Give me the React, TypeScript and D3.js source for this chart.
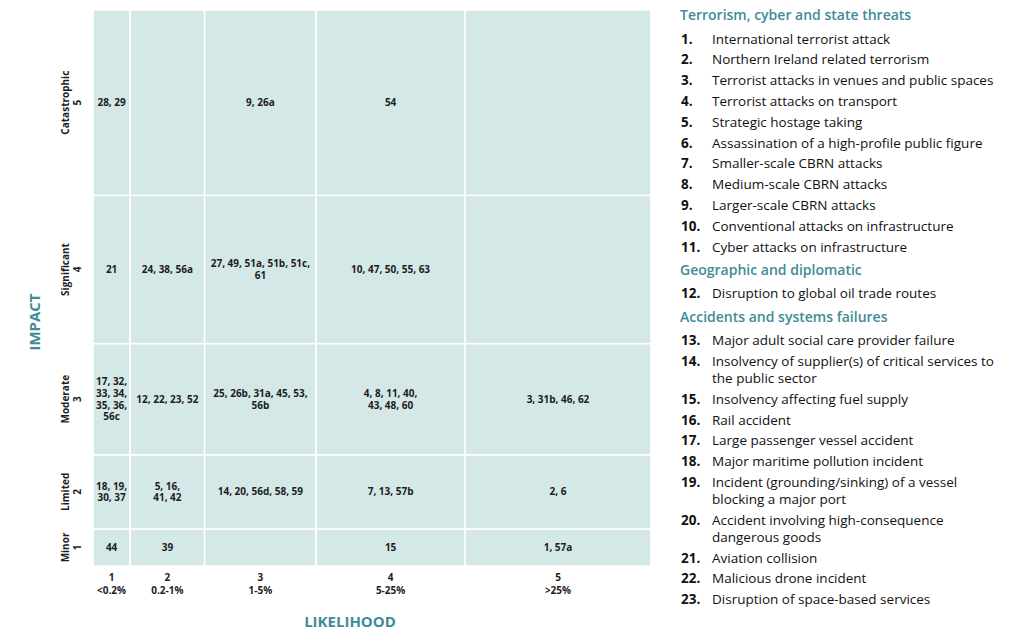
import React from 'react';
import * as d3 from 'd3';

// likelihood (columns) and impact (rows), both scored 1..5
const likelihoodLevels = [1, 2, 3, 4, 5];
const likelihoodLabels = ['<0.2%', '0.2-1%', '1-5%', '5-25%', '>25%'];
const impactLevels = [1, 2, 3, 4, 5];
const impactLabels = ['Minor', 'Limited', 'Moderate', 'Significant', 'Catastrophic'];

// risk numbers sitting in each cell, already broken into lines
const cells: { l: number; i: number; lines: string[] }[] = [
  { l: 1, i: 5, lines: ['28, 29'] },
  { l: 3, i: 5, lines: ['9, 26a'] },
  { l: 4, i: 5, lines: ['54'] },
  { l: 1, i: 4, lines: ['21'] },
  { l: 2, i: 4, lines: ['24, 38, 56a'] },
  { l: 3, i: 4, lines: ['27, 49, 51a, 51b, 51c,', '61'] },
  { l: 4, i: 4, lines: ['10, 47, 50, 55, 63'] },
  { l: 1, i: 3, lines: ['17, 32,', '33, 34,', '35, 36,', '56c'] },
  { l: 2, i: 3, lines: ['12, 22, 23, 52'] },
  { l: 3, i: 3, lines: ['25, 26b, 31a, 45, 53,', '56b'] },
  { l: 4, i: 3, lines: ['4, 8, 11, 40,', '43, 48, 60'] },
  { l: 5, i: 3, lines: ['3, 31b, 46, 62'] },
  { l: 1, i: 2, lines: ['18, 19,', '30, 37'] },
  { l: 2, i: 2, lines: ['5, 16,', '41, 42'] },
  { l: 3, i: 2, lines: ['14, 20, 56d, 58, 59'] },
  { l: 4, i: 2, lines: ['7, 13, 57b'] },
  { l: 5, i: 2, lines: ['2, 6'] },
  { l: 1, i: 1, lines: ['44'] },
  { l: 2, i: 1, lines: ['39'] },
  { l: 4, i: 1, lines: ['15'] },
  { l: 5, i: 1, lines: ['1, 57a'] },
];

const threatItems = [
  ['International terrorist attack'],
  ['Northern Ireland related terrorism'],
  ['Terrorist attacks in venues and public spaces'],
  ['Terrorist attacks on transport'],
  ['Strategic hostage taking'],
  ['Assassination of a high-profile public figure'],
  ['Smaller-scale CBRN attacks'],
  ['Medium-scale CBRN attacks'],
  ['Larger-scale CBRN attacks'],
  ['Conventional attacks on infrastructure'],
  ['Cyber attacks on infrastructure'],
];
const geoItems = [['Disruption to global oil trade routes']];
const accidentItems = [
  ['Major adult social care provider failure'],
  ['Insolvency of supplier(s) of critical services to', 'the public sector'],
  ['Insolvency affecting fuel supply'],
  ['Rail accident'],
  ['Large passenger vessel accident'],
  ['Major maritime pollution incident'],
  ['Incident (grounding/sinking) of a vessel', 'blocking a major port'],
  ['Accident involving high-consequence', 'dangerous goods'],
  ['Aviation collision'],
  ['Malicious drone incident'],
  ['Disruption of space-based services'],
];
const groups = [
  { heading: 'Terrorism, cyber and state threats', items: threatItems },
  { heading: 'Geographic and diplomatic', items: geoItems },
  { heading: 'Accidents and systems failures', items: accidentItems },
];

const W = 1023;
const H = 632;
const FONT = "'Open Sans', 'Noto Sans', sans-serif";
const TEAL = '#3e8c98';
const FILL = '#d4e8e7';

const grid = { left: 93, right: 651, top: 10, bottom: 566 };
const total = d3.sum(likelihoodLevels);

// column / row widths grow with the score
const x = d3.scaleLinear().domain([0, total]).range([grid.left, grid.right]);
const y = d3.scaleLinear().domain([0, d3.sum(impactLevels)]).range([grid.bottom, grid.top]);
const cum = (levels: number[], v: number) => d3.sum(levels.filter((d) => d < v));
const colX0 = (l: number) => x(cum(likelihoodLevels, l));
const colX1 = (l: number) => x(cum(likelihoodLevels, l) + l);
const rowY0 = (i: number) => y(cum(impactLevels, i) + i);
const rowY1 = (i: number) => y(cum(impactLevels, i));

export default function App() {
  const lh = 11.7;

  // legend layout
  const legend: React.ReactNode[] = [];
  let cy = 20;
  let n = 1;
  groups.forEach((g, gi) => {
    if (gi > 0) cy += 23.3;
    legend.push(
      <text key={'h' + gi} x={680} y={cy} fill={TEAL} fontSize={14} fontWeight={600}>
        {g.heading}
      </text>
    );
    cy += 23.5;
    g.items.forEach((lines, k) => {
      if (k > 0) cy += 20.8;
      legend.push(
        <text key={'n' + n} x={681} y={cy} fontSize={13.5} fontWeight={700} fill="#111">
          {n}.
        </text>
      );
      lines.forEach((t, j) => {
        legend.push(
          <text key={'t' + n + '_' + j} x={712} y={cy + j * 17} fontSize={13.5} fill="#111">
            {t}
          </text>
        );
      });
      cy += (lines.length - 1) * 17;
      n += 1;
    });
  });

  return (
    <div style={{ position: 'fixed', left: 0, top: 0 }}>
      <svg width={W} height={H} style={{ fontFamily: FONT, display: 'block', background: '#fff' }}>
        {likelihoodLevels.map((l) =>
          impactLevels.map((i) => (
            <rect
              key={l + '-' + i}
              x={colX0(l)}
              y={rowY0(i)}
              width={colX1(l) - colX0(l)}
              height={rowY1(i) - rowY0(i)}
              fill={FILL}
              stroke="#fff"
              strokeWidth={1.5}
            />
          ))
        )}
        {cells.map((c) => {
          const cx = (colX0(c.l) + colX1(c.l)) / 2;
          const cyc = (rowY0(c.i) + rowY1(c.i)) / 2;
          const y0 = cyc - ((c.lines.length - 1) * lh) / 2 + 3.6;
          return (
            <text key={c.l + '_' + c.i} textAnchor="middle" fontSize={10} fontWeight={700} fill="#1d1d1d">
              {c.lines.map((t, j) => (
                <tspan key={j} x={cx} y={y0 + j * lh}>
                  {t}
                </tspan>
              ))}
            </text>
          );
        })}
        {likelihoodLevels.map((l, k) => {
          const cx = (colX0(l) + colX1(l)) / 2;
          return (
            <text key={'xl' + l} textAnchor="middle" fontSize={10} fontWeight={700} fill="#1d1d1d">
              <tspan x={cx} y={581}>{l}</tspan>
              <tspan x={cx} y={593.5}>{likelihoodLabels[k]}</tspan>
            </text>
          );
        })}
        {impactLevels.map((i, k) => {
          const cyc = (rowY0(i) + rowY1(i)) / 2;
          return (
            <text
              key={'yl' + i}
              transform={`translate(69,${cyc}) rotate(-90)`}
              textAnchor="middle"
              fontSize={10}
              fontWeight={700}
              fill="#1d1d1d"
            >
              <tspan x={0} y={0}>{impactLabels[k]}</tspan>
              <tspan x={0} y={11.5}>{i}</tspan>
            </text>
          );
        })}
        <text
          transform="translate(39.5,322) rotate(-90)"
          textAnchor="middle"
          fontSize={15}
          fontWeight={700}
          fill={TEAL}
        >
          IMPACT
        </text>
        <text x={350} y={627} textAnchor="middle" fontSize={15} fontWeight={700} fill={TEAL}>
          LIKELIHOOD
        </text>
        {legend}
      </svg>
    </div>
  );
}
